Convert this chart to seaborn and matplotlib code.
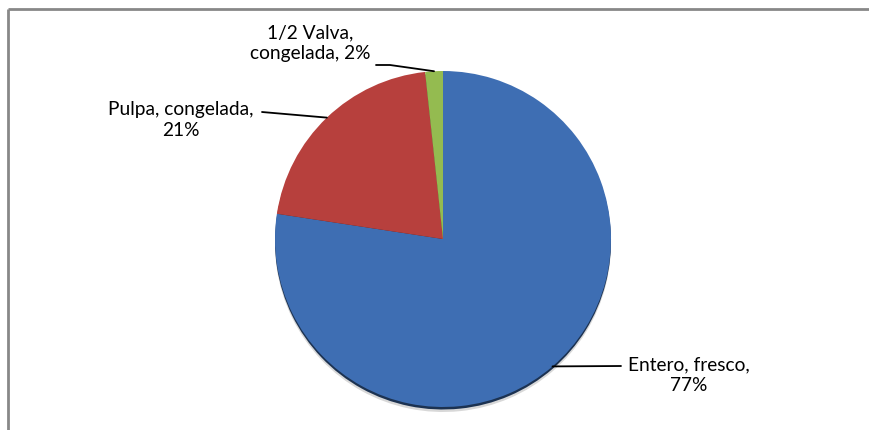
import numpy as np
import matplotlib
matplotlib.use("Agg")
import matplotlib.pyplot as plt
import matplotlib.colors as mcolors
import seaborn as sns

categories = ["Entero, fresco", "Pulpa, congelada", "1/2 Valva, congelada"]
values = [77.4, 20.9, 1.7]
label_pct = ["77%", "21%", "2%"]
colors = ["#3E6EB3", "#B7403D", "#94BB50"]

sns.set_theme(style="white")
plt.rcParams['font.family'] = ['Lato', 'DejaVu Sans']

W, H = 869, 430
fig = plt.figure(figsize=(W / 100, H / 100), dpi=100)
ax = fig.add_axes([0, 0, 1, 1])

cx, cy, R = 443, H - 239, 168

# soft shadow + dark rim below the pie
dark = [tuple(np.array(mcolors.to_rgb(c)) * 0.45) for c in colors]
ax.pie(values, colors=["#d8d8d8"] * 3, startangle=90, counterclock=False,
       center=(cx, cy - 5), radius=R, frame=True,
       wedgeprops=dict(linewidth=0))
ax.pie(values, colors=dark, startangle=90, counterclock=False,
       center=(cx, cy - 2.5), radius=R, frame=True,
       wedgeprops=dict(linewidth=0))
wedges, _ = ax.pie(values, colors=colors, startangle=90, counterclock=False,
                   center=(cx, cy), radius=R, frame=True,
                   wedgeprops=dict(linewidth=0))
ax.set_xlim(0, W)
ax.set_ylim(0, H)
ax.set_aspect('equal')
ax.axis('off')

# label layout (pixel positions from top-left)
text_pos = [(689, 375), (181, 120), (310, 43)]
text_lines = ["Entero, fresco,\n", "Pulpa, congelada,\n", "1/2 Valva,\ncongelada, "]
line_start = [(621, 366), (262, 112), (376, 65)]

for w, cat, pct, tp, ls, tl in zip(wedges, categories, label_pct, text_pos, line_start, text_lines):
    mid = np.deg2rad((w.theta1 + w.theta2) / 2)
    ex, ey = cx + R * np.cos(mid), cy + R * np.sin(mid)
    sx, sy = ls[0], H - ls[1]
    if cat.startswith("1/2"):
        ax.plot([sx, sx + 14, ex], [sy, sy, ey], color="black", lw=1.3, zorder=5)
    else:
        ax.plot([sx, ex], [sy, ey], color="black", lw=1.3, zorder=5)
    ax.text(tp[0], H - tp[1], tl + pct, ha="center", va="center",
            fontsize=13.8, color="black", linespacing=1.3)

# chart frame
ax.plot([8, 8], [0, H - 9], color="#888888", lw=2, solid_capstyle="butt")
ax.plot([8, W], [H - 9, H - 9], color="#888888", lw=2, solid_capstyle="butt")

fig.savefig("out.png", dpi=100)
